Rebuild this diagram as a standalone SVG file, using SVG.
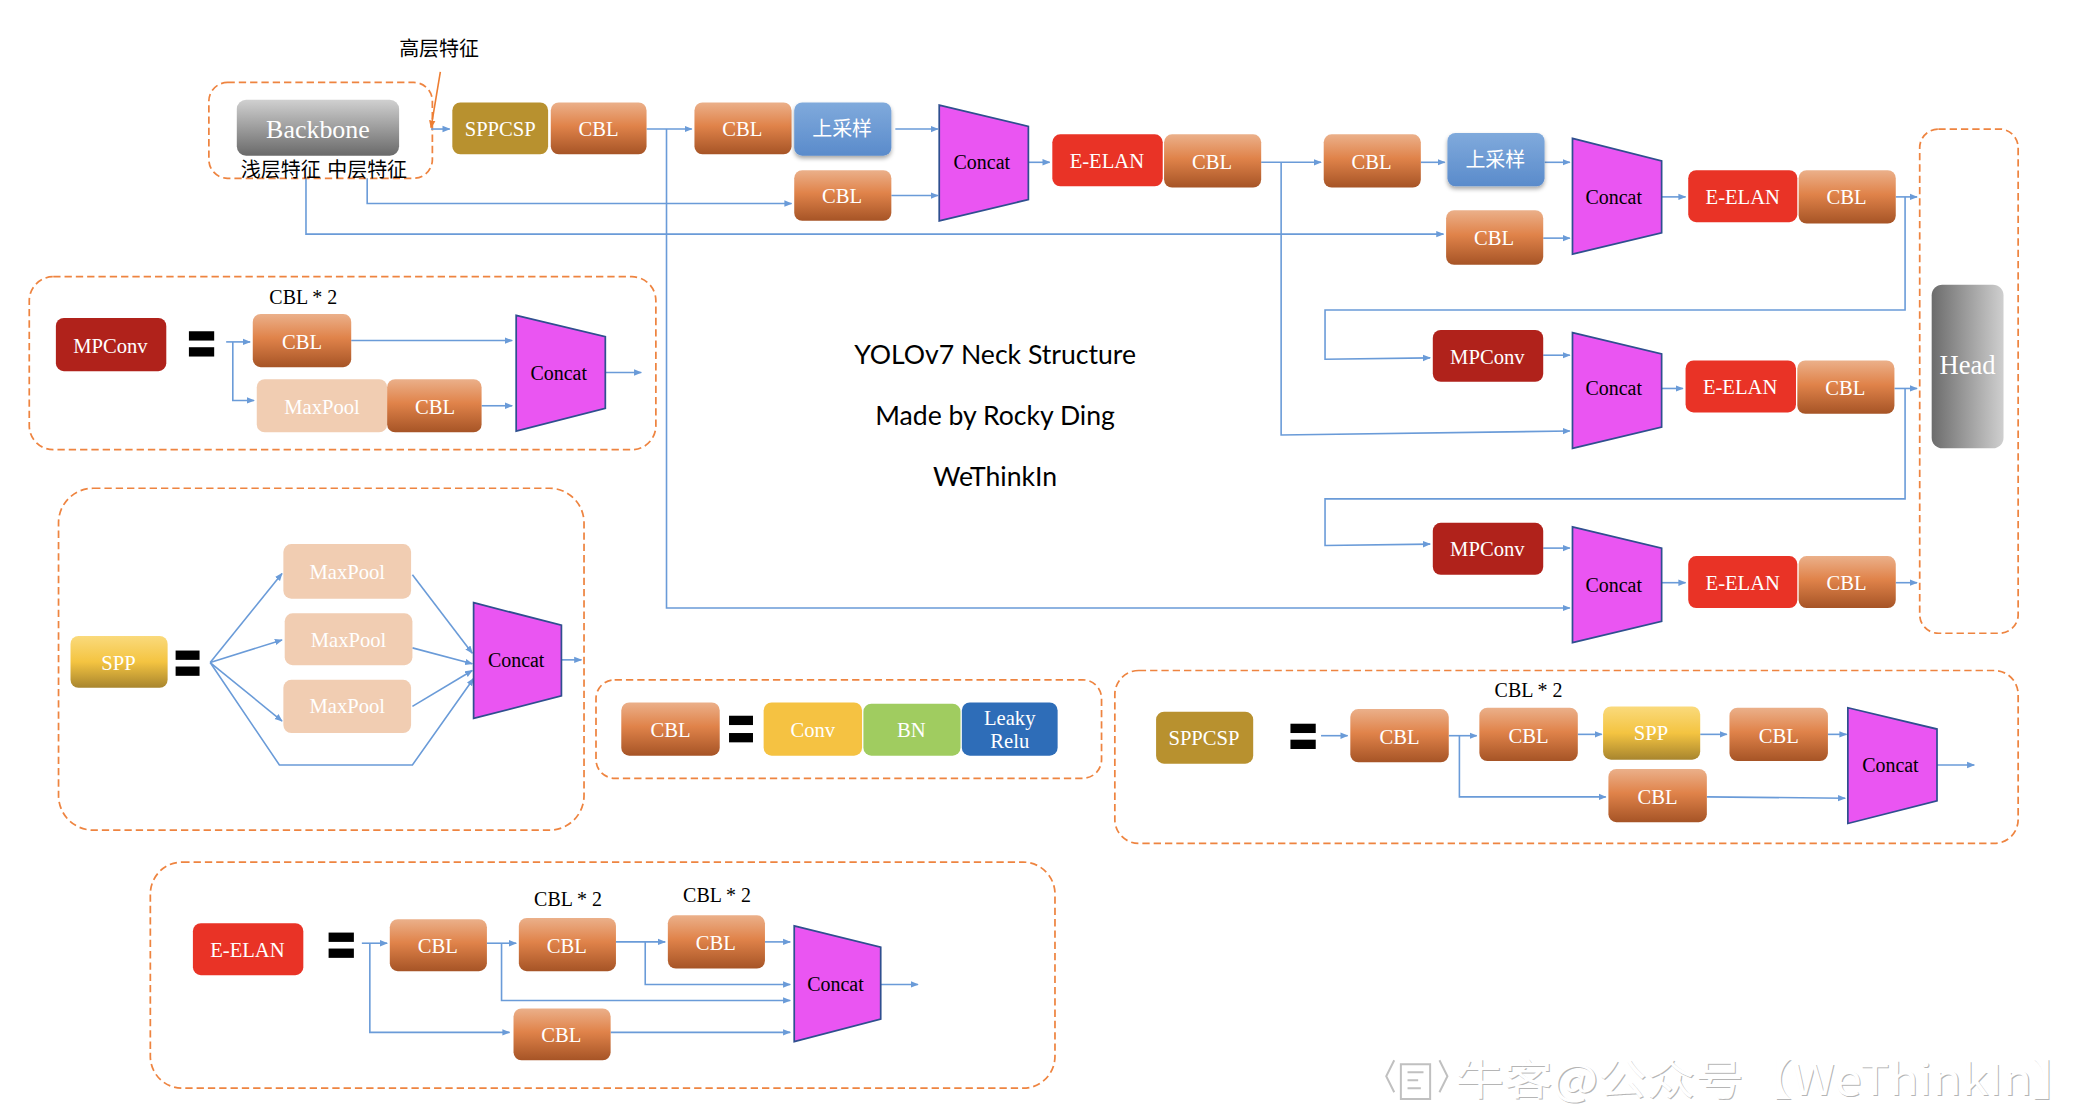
<svg xmlns="http://www.w3.org/2000/svg" width="2086" height="1116" viewBox="0 0 2086 1116">
<defs>
<style>
.t{font-family:"Liberation Serif",serif;font-size:15.5px;fill:#fff;text-anchor:middle;dominant-baseline:central}
.tb{font-family:"Liberation Serif",serif;font-size:15px;fill:#000;text-anchor:middle;dominant-baseline:central}
.cn{font-family:"Noto Sans CJK SC",sans-serif;font-size:15px;fill:#000;text-anchor:middle;dominant-baseline:central}
.cnw{font-family:"Liberation Serif","Noto Sans CJK SC",serif;font-size:15px;fill:#fff;text-anchor:middle;dominant-baseline:central}
.title{font-family:Lato,"Noto Sans",sans-serif;font-size:20px;fill:#000;text-anchor:middle;dominant-baseline:central}
.c{fill:none;stroke:#6A9BD8;stroke-width:1.2;marker-end:url(#ah)}
.d{fill:none;stroke:#EE8440;stroke-width:1.3;stroke-dasharray:5.5 3}
.cbl{fill:url(#gCBL)}
.cc{fill:#EA55F2;stroke:#2F4F8F;stroke-width:1.3}
.mp{fill:#B0221B}
.el{fill:#E93326}
.mx{fill:#F1CDB2}
.eq{fill:#000}
</style>
<linearGradient id="gCBL" x1="0" y1="0" x2="0" y2="1">
<stop offset="0" stop-color="#EBB08A"/><stop offset="0.45" stop-color="#E0834A"/><stop offset="1" stop-color="#A65426"/>
</linearGradient>
<linearGradient id="gUp" x1="0" y1="0" x2="0" y2="1">
<stop offset="0" stop-color="#80AADC"/><stop offset="1" stop-color="#5A8BCB"/>
</linearGradient>
<linearGradient id="gBack" x1="0" y1="0" x2="0" y2="1">
<stop offset="0" stop-color="#D0D0D0"/><stop offset="1" stop-color="#6A6A6A"/>
</linearGradient>
<linearGradient id="gHead" x1="0" y1="0" x2="1" y2="0">
<stop offset="0" stop-color="#6C6C6C"/><stop offset="1" stop-color="#CFCFCF"/>
</linearGradient>
<linearGradient id="gSPP" x1="0" y1="0" x2="0" y2="1">
<stop offset="0" stop-color="#FADA7C"/><stop offset="0.5" stop-color="#F4C441"/><stop offset="1" stop-color="#A8852E"/>
</linearGradient>
<filter id="sh" x="-20%" y="-20%" width="140%" height="150%">
<feDropShadow dx="0" dy="2" stdDeviation="1.5" flood-color="#000" flood-opacity="0.35"/>
</filter>
<marker id="ah" viewBox="0 0 10 10" refX="9" refY="5" markerWidth="6" markerHeight="6" orient="auto" markerUnits="userSpaceOnUse">
<path d="M0,1 L10,5 L0,9 z" fill="#6A9BD8"/>
</marker>
<marker id="aho" viewBox="0 0 10 10" refX="9" refY="5" markerWidth="6" markerHeight="6" orient="auto" markerUnits="userSpaceOnUse">
<path d="M0,1 L10,5 L0,9 z" fill="#ED7D31"/>
</marker>
</defs>
<rect width="2086" height="1116" fill="#fff"/>
<g transform="scale(1.33036)">

<g id="frames">
<rect class="d" x="157" y="62" width="168" height="72" rx="14"/>
<rect class="d" x="1443" y="97" width="74" height="379" rx="14"/>
<rect class="d" x="22" y="208" width="471" height="130" rx="18"/>
<rect class="d" x="44" y="367" width="395" height="257" rx="26"/>
<rect class="d" x="448" y="511" width="380" height="74" rx="14"/>
<rect class="d" x="838" y="504" width="679" height="130" rx="18"/>
<rect class="d" x="113" y="648" width="680" height="170" rx="24"/>
</g>

<g id="connectors">
<line x1="331" y1="54" x2="324" y2="96" stroke="#ED7D31" stroke-width="1.2" marker-end="url(#aho)"/>
<line class="c" x1="324" y1="97" x2="338" y2="97"/>
<line class="c" x1="486" y1="97" x2="520" y2="97"/>
<polyline class="c" points="501,97 501,457 1180,457"/>
<line class="c" x1="673" y1="97" x2="705" y2="97"/>
<polyline class="c" points="276,134 276,153 595,153"/>
<line class="c" x1="670" y1="147" x2="705" y2="147"/>
<line class="c" x1="773" y1="122" x2="789" y2="122"/>
<line class="c" x1="948" y1="122" x2="993" y2="122"/>
<polyline class="c" points="963,122 963,327 1180,324"/>
<line class="c" x1="1068" y1="122" x2="1086" y2="122"/>
<line class="c" x1="1161" y1="122" x2="1180" y2="122"/>
<polyline class="c" points="230,134 230,176 1085,176"/>
<line class="c" x1="1160" y1="179" x2="1180" y2="179"/>
<line class="c" x1="1249" y1="148" x2="1267" y2="148"/>
<line class="c" x1="1425" y1="148" x2="1441" y2="148"/>
<polyline class="c" points="1432,148 1432,233 996,233 996,270 1075,269"/>
<line class="c" x1="1160" y1="267" x2="1180" y2="267"/>
<line class="c" x1="1249" y1="292" x2="1265" y2="292"/>
<line class="c" x1="1424" y1="292" x2="1441" y2="292"/>
<polyline class="c" points="1432,292 1432,375 996,375 996,410 1075,409"/>
<line class="c" x1="1160" y1="412" x2="1180" y2="412"/>
<line class="c" x1="1249" y1="438" x2="1267" y2="438"/>
<line class="c" x1="1425" y1="438" x2="1441" y2="438"/>
<line class="c" x1="170" y1="257" x2="188" y2="257"/>
<polyline class="c" points="175,257 175,301 191,301"/>
<line class="c" x1="264" y1="256" x2="385" y2="256"/>
<line class="c" x1="362" y1="305" x2="385" y2="305"/>
<line class="c" x1="455" y1="280" x2="482" y2="280"/>
<line class="c" x1="158" y1="498" x2="212" y2="431"/>
<line class="c" x1="158" y1="498" x2="212" y2="481"/>
<line class="c" x1="158" y1="498" x2="212" y2="542"/>
<polyline class="c" points="158,498 210,575 310,575 356,510"/>
<line class="c" x1="310" y1="432" x2="355" y2="491"/>
<line class="c" x1="310" y1="487" x2="355" y2="499"/>
<line class="c" x1="310" y1="531" x2="355" y2="504"/>
<line class="c" x1="422" y1="496" x2="437" y2="496"/>
<line class="c" x1="993" y1="553" x2="1013" y2="553"/>
<line class="c" x1="1089" y1="553" x2="1110" y2="553"/>
<polyline class="c" points="1097,553 1097,599 1207,599"/>
<line class="c" x1="1186" y1="552" x2="1204" y2="552"/>
<line class="c" x1="1278" y1="552" x2="1298" y2="552"/>
<line class="c" x1="1374" y1="552" x2="1388" y2="552"/>
<line class="c" x1="1283" y1="599" x2="1387" y2="600"/>
<line class="c" x1="1456" y1="575" x2="1484" y2="575"/>
<line class="c" x1="272" y1="709" x2="291" y2="709"/>
<polyline class="c" points="278,709 278,776 383,776"/>
<line class="c" x1="366" y1="709" x2="388" y2="709"/>
<polyline class="c" points="377,709 377,752 594,752"/>
<line class="c" x1="463" y1="708" x2="500" y2="708"/>
<polyline class="c" points="485,708 485,740 594,740"/>
<line class="c" x1="575" y1="708" x2="594" y2="708"/>
<line class="c" x1="459" y1="776" x2="594" y2="776"/>
<line class="c" x1="662" y1="740" x2="690" y2="740"/>
</g>

<g id="backbone"><rect x="178" y="75" width="122" height="42" rx="7" fill="url(#gBack)"/><text class="t" x="239" y="97" style="font-size:19.5px">Backbone</text></g>
<g id="label-high"><text class="cn" x="330" y="36">高层特征</text></g>
<g id="label-shallow"><text class="cn" x="211" y="127">浅层特征</text></g>
<g id="label-mid"><text class="cn" x="276" y="127">中层特征</text></g>
<g id="sppcsp"><rect x="340" y="77" width="72" height="39" rx="6" fill="#B8912F"/><text class="t" x="376" y="97">SPPCSP</text></g>
<g id="cbl1"><rect class="cbl" x="414" y="77" width="72" height="39" rx="6"/><text class="t" x="450" y="97">CBL</text></g>
<g id="cbl2"><rect class="cbl" x="522" y="77" width="73" height="39" rx="6"/><text class="t" x="558" y="97">CBL</text></g>
<g id="up1"><rect x="597" y="77" width="73" height="40" rx="6" fill="url(#gUp)" filter="url(#sh)"/><text class="cnw" x="633" y="97">上采样</text></g>
<g id="cbl3"><rect class="cbl" x="597" y="128" width="73" height="38" rx="6"/><text class="t" x="633" y="147">CBL</text></g>
<g id="concat1"><polygon class="cc" points="706,79 773,95 773,150 706,166"/><text class="tb" x="738" y="122">Concat</text></g>
<g id="elan1"><rect class="el" x="791" y="101" width="83" height="39" rx="6"/><text class="t" x="832" y="121">E-ELAN</text></g>
<g id="cbl4"><rect class="cbl" x="875" y="101" width="73" height="40" rx="6"/><text class="t" x="911" y="122">CBL</text></g>
<g id="cbl5"><rect class="cbl" x="995" y="101" width="73" height="40" rx="6"/><text class="t" x="1031" y="122">CBL</text></g>
<g id="up2"><rect x="1088" y="100" width="73" height="40" rx="6" fill="url(#gUp)" filter="url(#sh)"/><text class="cnw" x="1124" y="120">上采样</text></g>
<g id="cbl6"><rect class="cbl" x="1087" y="158" width="73" height="41" rx="6"/><text class="t" x="1123" y="179">CBL</text></g>
<g id="concat2"><polygon class="cc" points="1182,104 1249,121 1249,175 1182,191"/><text class="tb" x="1213" y="148">Concat</text></g>
<g id="elan2"><rect class="el" x="1269" y="128" width="82" height="39" rx="6"/><text class="t" x="1310" y="148">E-ELAN</text></g>
<g id="cbl7"><rect class="cbl" x="1352" y="128" width="73" height="40" rx="6"/><text class="t" x="1388" y="148">CBL</text></g>
<g id="mpconv1"><rect class="mp" x="1077" y="248" width="83" height="39" rx="6"/><text class="t" x="1118" y="268">MPConv</text></g>
<g id="concat3"><polygon class="cc" points="1182,250 1249,266 1249,321 1182,337"/><text class="tb" x="1213" y="292">Concat</text></g>
<g id="elan3"><rect class="el" x="1267" y="271" width="83" height="39" rx="6"/><text class="t" x="1308" y="291">E-ELAN</text></g>
<g id="cbl8"><rect class="cbl" x="1351" y="271" width="73" height="40" rx="6"/><text class="t" x="1387" y="292">CBL</text></g>
<g id="mpconv2"><rect class="mp" x="1077" y="393" width="83" height="39" rx="6"/><text class="t" x="1118" y="413">MPConv</text></g>
<g id="concat4"><polygon class="cc" points="1182,396 1249,412 1249,467 1182,483"/><text class="tb" x="1213" y="440">Concat</text></g>
<g id="elan4"><rect class="el" x="1269" y="418" width="82" height="39" rx="6"/><text class="t" x="1310" y="438">E-ELAN</text></g>
<g id="cbl9"><rect class="cbl" x="1352" y="418" width="73" height="39" rx="6"/><text class="t" x="1388" y="438">CBL</text></g>
<g id="head"><rect x="1452" y="214" width="54" height="123" rx="8" fill="url(#gHead)"/><text class="t" x="1479" y="274" style="font-size:20px">Head</text></g>

<g id="title">
<text class="title" x="748" y="266">YOLOv7 Neck Structure</text>
<text class="title" x="748" y="312">Made by Rocky Ding</text>
<text class="title" x="748" y="358">WeThinkIn</text>
</g>

<g id="mp-legend">
<text class="tb" x="228" y="223">CBL * 2</text>
<g id="mp-l-mpconv"><rect class="mp" x="42" y="239" width="83" height="40" rx="6"/><text class="t" x="83" y="260">MPConv</text></g>
<rect class="eq" x="142" y="249" width="19" height="7"/><rect class="eq" x="142" y="261" width="19" height="7"/>
<g id="mp-l-cbl1"><rect class="cbl" x="190" y="236" width="74" height="40" rx="6"/><text class="t" x="227" y="257">CBL</text></g>
<g id="mp-l-maxpool"><rect class="mx" x="193" y="285" width="98" height="40" rx="6"/><text class="t" x="242" y="306">MaxPool</text></g>
<g id="mp-l-cbl2"><rect class="cbl" x="291" y="285" width="71" height="40" rx="6"/><text class="t" x="327" y="306">CBL</text></g>
<g id="mp-l-concat"><polygon class="cc" points="388,237 455,253 455,307 388,324"/><text class="tb" x="420" y="280">Concat</text></g>
</g>

<g id="spp-legend">
<g id="spp-l-spp"><rect x="53" y="478" width="73" height="39" rx="6" fill="url(#gSPP)"/><text class="t" x="89" y="498">SPP</text></g>
<rect class="eq" x="132" y="489" width="18" height="7"/><rect class="eq" x="132" y="501" width="18" height="7"/>
<g id="spp-l-mp1"><rect class="mx" x="213" y="409" width="96" height="41" rx="6"/><text class="t" x="261" y="430">MaxPool</text></g>
<g id="spp-l-mp2"><rect class="mx" x="214" y="461" width="96" height="39" rx="6"/><text class="t" x="262" y="481">MaxPool</text></g>
<g id="spp-l-mp3"><rect class="mx" x="213" y="511" width="96" height="40" rx="6"/><text class="t" x="261" y="531">MaxPool</text></g>
<g id="spp-l-concat"><polygon class="cc" points="356,453 422,470 422,523 356,540"/><text class="tb" x="388" y="496">Concat</text></g>
</g>

<g id="cbl-legend">
<g id="cbl-l-cbl"><rect class="cbl" x="467" y="528" width="74" height="40" rx="6"/><text class="t" x="504" y="549">CBL</text></g>
<rect class="eq" x="548" y="538" width="18" height="7"/><rect class="eq" x="548" y="551" width="18" height="7"/>
<g id="cbl-l-conv"><rect x="574" y="528" width="74" height="40" rx="6" fill="#F5C242"/><text class="t" x="611" y="549">Conv</text></g>
<g id="cbl-l-bn"><rect x="649" y="529" width="73" height="39" rx="6" fill="#A0CC60"/><text class="t" x="685" y="549">BN</text></g>
<g id="cbl-l-relu"><rect x="723" y="528" width="72" height="40" rx="6" fill="#2E6DB8"/><text class="t" x="759" y="540">Leaky</text><text class="t" x="759" y="557">Relu</text></g>
</g>

<g id="sppcsp-legend">
<g id="sc-l-sppcsp"><rect x="869" y="535" width="73" height="39" rx="6" fill="#B8912F"/><text class="t" x="905" y="555">SPPCSP</text></g>
<rect class="eq" x="970" y="544" width="19" height="7"/><rect class="eq" x="970" y="556" width="19" height="7"/>
<text class="tb" x="1149" y="519">CBL * 2</text>
<g id="sc-l-cbl1"><rect class="cbl" x="1015" y="533" width="74" height="40" rx="6"/><text class="t" x="1052" y="554">CBL</text></g>
<g id="sc-l-cbl2"><rect class="cbl" x="1112" y="532" width="74" height="40" rx="6"/><text class="t" x="1149" y="553">CBL</text></g>
<g id="sc-l-spp"><rect x="1205" y="531" width="73" height="40" rx="6" fill="url(#gSPP)"/><text class="t" x="1241" y="551">SPP</text></g>
<g id="sc-l-cbl3"><rect class="cbl" x="1300" y="532" width="74" height="40" rx="6"/><text class="t" x="1337" y="553">CBL</text></g>
<g id="sc-l-cbl4"><rect class="cbl" x="1209" y="578" width="74" height="40" rx="6"/><text class="t" x="1246" y="599">CBL</text></g>
<g id="sc-l-concat"><polygon class="cc" points="1389,532 1456,548 1456,602 1389,619"/><text class="tb" x="1421" y="575">Concat</text></g>
</g>

<g id="elan-legend">
<g id="el-l-elan"><rect class="el" x="145" y="694" width="83" height="39" rx="6"/><text class="t" x="186" y="714">E-ELAN</text></g>
<rect class="eq" x="247" y="701" width="19" height="7"/><rect class="eq" x="247" y="713" width="19" height="7"/>
<text class="tb" x="427" y="676">CBL * 2</text>
<text class="tb" x="539" y="673">CBL * 2</text>
<g id="el-l-cbl1"><rect class="cbl" x="293" y="691" width="73" height="39" rx="6"/><text class="t" x="329" y="711">CBL</text></g>
<g id="el-l-cbl2"><rect class="cbl" x="390" y="690" width="73" height="40" rx="6"/><text class="t" x="426" y="711">CBL</text></g>
<g id="el-l-cbl3"><rect class="cbl" x="502" y="688" width="73" height="40" rx="6"/><text class="t" x="538" y="709">CBL</text></g>
<g id="el-l-cbl4"><rect class="cbl" x="386" y="758" width="73" height="39" rx="6"/><text class="t" x="422" y="778">CBL</text></g>
<g id="el-l-concat"><polygon class="cc" points="597,696 662,712 662,766 597,783"/><text class="tb" x="628" y="740">Concat</text></g>
</g>

<g id="watermark" font-family="'Noto Sans CJK SC',sans-serif" font-size="32">
<text x="1094" y="823" fill="#b5b5b5" textLength="470" lengthAdjust="spacingAndGlyphs" transform="translate(0.8,0.8)">牛客@公众号【WeThinkIn】</text>
<text x="1094" y="823" fill="#fff" textLength="470" lengthAdjust="spacingAndGlyphs">牛客@公众号【WeThinkIn】</text>
<path d="M1048,797 l-6,12 l6,12 M1082,797 l6,12 l-6,12 M1053,800 h22 v26 h-22 z M1058,806 h12 M1058,812 h8 M1058,818 h10" fill="none" stroke="#c0c0c0" stroke-width="1.5"/>
</g>
</g>
</svg>
